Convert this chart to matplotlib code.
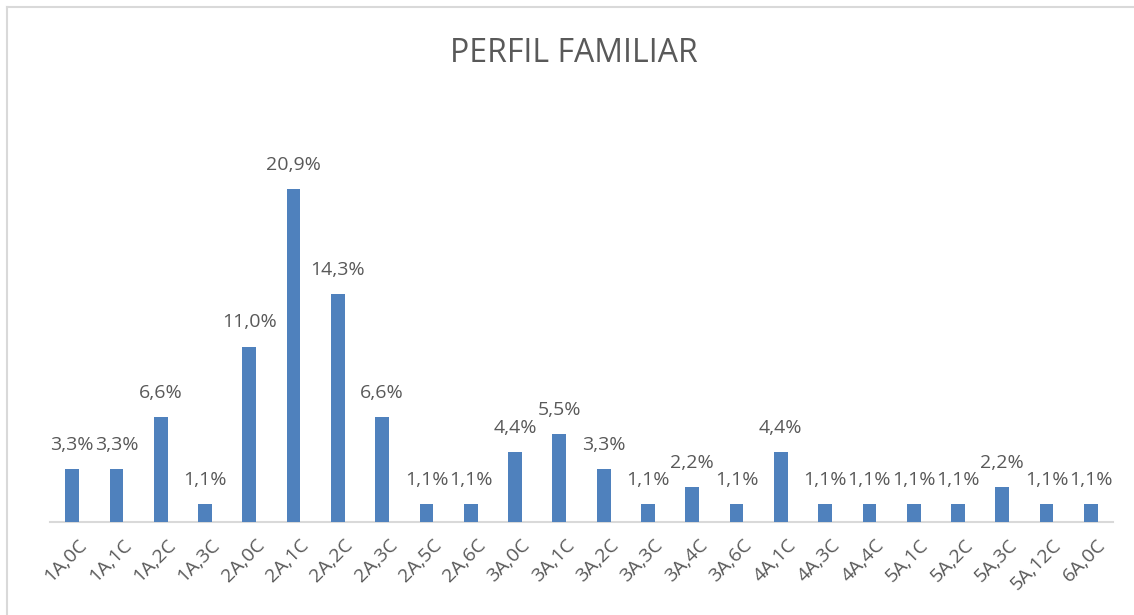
import matplotlib
matplotlib.use("Agg")
import matplotlib.pyplot as plt
from matplotlib.lines import Line2D
from matplotlib.transforms import ScaledTranslation

categories = ["1A,0C", "1A,1C", "1A,2C", "1A,3C", "2A,0C", "2A,1C", "2A,2C", "2A,3C",
              "2A,5C", "2A,6C", "3A,0C", "3A,1C", "3A,2C", "3A,3C", "3A,4C", "3A,6C",
              "4A,1C", "4A,3C", "4A,4C", "5A,1C", "5A,2C", "5A,3C", "5A,12C", "6A,0C"]
values = [3.3, 3.3, 6.6, 1.1, 11.0, 20.9, 14.3, 6.6, 1.1, 1.1, 4.4, 5.5,
          3.3, 1.1, 2.2, 1.1, 4.4, 1.1, 1.1, 1.1, 1.1, 2.2, 1.1, 1.1]
title = "PERFIL FAMILIAR"

plt.rcParams['font.family'] = ['Open Sans', 'DejaVu Sans']
W, H = 1134, 615
fig = plt.figure(figsize=(W / 100, H / 100), dpi=100)

left, right = 50 / W, 1113 / W
bottom = 1 - 522 / H
ymax = 25.0
top_px = 522 - ymax * (333 / 20.9)
top = 1 - top_px / H
ax = fig.add_axes([left, bottom, right - left, top - bottom])

x = list(range(len(categories)))
ax.bar(x, values, width=0.31, color="#4F81BD", zorder=3)
ax.set_xlim(-0.5, len(categories) - 0.5)
ax.set_ylim(0, ymax)

for xi, v in zip(x, values):
    ax.annotate(f"{v:.1f}%".replace(".", ","), (xi, v), xytext=(0, 11),
                textcoords="offset points", ha="center", va="bottom",
                fontsize=14, color="#595959")

ax.set_xticks(x)
ax.set_xticklabels(categories, rotation=45, ha="right", rotation_mode="anchor",
                   fontsize=14, color="#595959")
ax.tick_params(axis="x", length=0, pad=10)
for lbl in ax.get_xticklabels():
    lbl.set_transform(lbl.get_transform() + ScaledTranslation(6 / 100, 0, fig.dpi_scale_trans))
ax.set_yticks([])
for s in ["top", "right", "left"]:
    ax.spines[s].set_visible(False)
ax.spines["bottom"].set_color("#D9D9D9")
ax.spines["bottom"].set_linewidth(1.5)

fig.text(574 / W, 1 - 53 / H, title, ha="center", va="center",
         fontsize=23, color="#595959")

# chart border
fig.add_artist(Line2D([7 / W, 7 / W], [0, 1 - 7 / H], transform=fig.transFigure,
                      color="#D9D9D9", linewidth=1.5))
fig.add_artist(Line2D([7 / W, 1], [1 - 7 / H, 1 - 7 / H], transform=fig.transFigure,
                      color="#D9D9D9", linewidth=1.5))

fig.savefig("out.png", dpi=100, facecolor="white")
